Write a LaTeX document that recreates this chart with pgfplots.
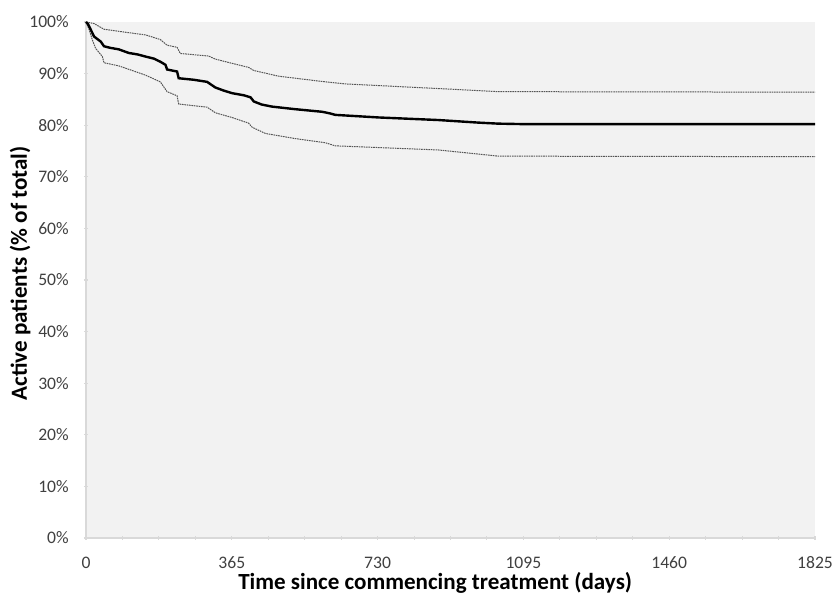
\documentclass[border=0pt]{standalone}
\usepackage{fontspec}
\setmainfont{Carlito}
\usepackage{pgfplots}
\pgfplotsset{compat=1.18}
\definecolor{bgray}{HTML}{F2F2F2}
\definecolor{axgray}{HTML}{D9D9D9}
\definecolor{tickgray}{HTML}{404040}
\definecolor{cigray}{HTML}{555555}

\begin{document}
\begin{tikzpicture}
\begin{axis}[
  scale only axis, width=546.75pt, height=387pt,
  xmin=0, xmax=1825, ymin=0, ymax=100,
  axis x line=bottom, axis y line=left,
  axis line style={-, draw=axgray, line width=0.8pt},
  axis background/.style={fill=bgray},
  xtick={0,365,...,1825}, minor x tick num=3,
  ytick={0,10,...,100},
  yticklabel={\pgfmathprintnumber{\tick}\%},
  /pgf/number format/1000 sep={},
  major tick length=3pt, minor tick length=3pt,
  every tick/.style={draw=axgray, line width=0.8pt},
  tick label style={font=\fontsize{13.2}{15}\selectfont, text=tickgray, inner sep=0pt},
  /pgf/number format/assume math mode=true,
  xticklabel style={anchor=center, yshift=-17.25pt},
  yticklabel style={anchor=east, xshift=-11.25pt},
  xlabel={\textbf{Time since commencing treatment (days)}},
  ylabel={\textbf{Active patients (\% of total)}},
  label style={font=\fontsize{17.3}{20}\selectfont},
  xlabel style={at={(axis description cs:0.479,0)}, anchor=center, yshift=-34pt},
  ylabel style={at={(axis description cs:-0.0905,0.513)}, anchor=center},
  clip=false,
]
% upper confidence bound
\addplot[cigray, line width=0.75pt, dash pattern=on 1.2pt off 0.6pt] coordinates {
(0,100) (20,99.7) (45,98.6) (100,98.0) (149,97.5) (186,96.6) (203,95.5)
(228,95.1) (236,93.9) (307,93.4) (324,92.8) (365,92.0) (407,91.2) (420,90.6)
(482,89.5) (599,88.4) (649,88.0) (882,87.1) (982,86.7) (1032,86.5) (1825,86.4)};
% lower confidence bound
\addplot[cigray, line width=0.75pt, dash pattern=on 1.2pt off 0.6pt] coordinates {
(0,100) (8,98.5) (16,96.5) (24,94.9) (41,93.3) (45,92.1) (82,91.5) (149,89.7)
(186,88.4) (203,86.5) (228,85.7) (232,84.1) (303,83.5) (324,82.4) (365,81.5)
(407,80.4) (416,79.6) (449,78.4) (524,77.4) (599,76.6) (624,76.0) (882,75.2)
(982,74.4) (1032,74.0) (1825,73.9)};
% survival estimate
\addplot[black, line width=1.8pt] coordinates {
(0,100) (5,99.6) (12,98.5) (20,97.2) (30,96.6) (37,96.2) (45,95.3) (60,95.0)
(82,94.7) (107,94.0) (130,93.7) (149,93.3) (170,92.9) (186,92.3) (199,91.7)
(203,90.8) (215,90.6) (228,90.4) (232,89.1) (270,88.8) (303,88.4) (324,87.3)
(345,86.7) (366,86.2) (395,85.8) (412,85.4) (420,84.6) (440,84.0) (466,83.6)
(524,83.1) (591,82.6) (610,82.3) (624,82.0) (732,81.5) (882,81.0) (982,80.5)
(1032,80.3) (1100,80.2) (1825,80.2)};
\end{axis}
\pgfresetboundingbox
\path (current axis.south west) ++(-64.5pt,-42.75pt) coordinate (bbl);
\path (current axis.north east) ++(12.75pt,16.5pt) coordinate (btr);
\path (bbl) rectangle (btr);
\end{tikzpicture}
\end{document}
